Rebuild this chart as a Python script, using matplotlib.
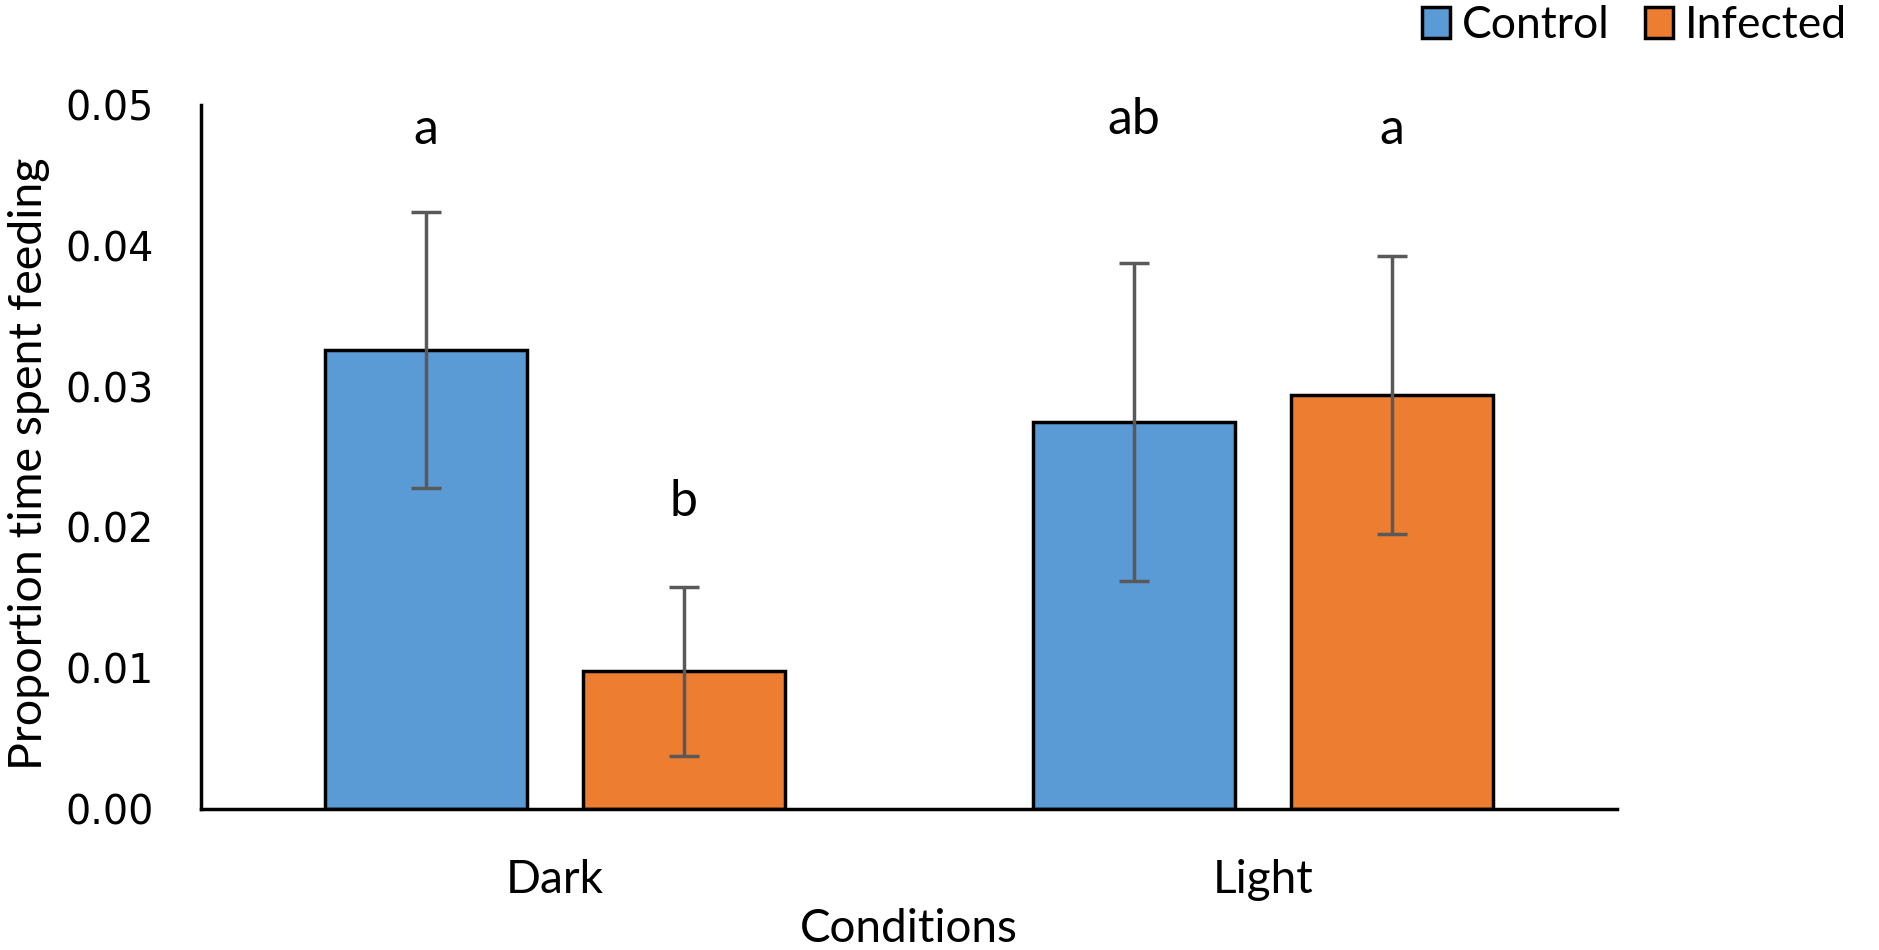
import matplotlib
matplotlib.use("Agg")
import matplotlib.pyplot as plt
import numpy as np
from matplotlib.patches import Patch

conditions = ["Dark", "Light"]
series_names = ["Control", "Infected"]
control_means = [0.0326, 0.0275]
infected_means = [0.0098, 0.0294]
control_err = [0.0098, 0.0113]
infected_err = [0.0060, 0.0099]
control_letters = ["a", "ab"]
infected_letters = ["b", "a"]
letter_y_control = [0.0482, 0.0489]
letter_y_infected = [0.0218, 0.0482]
yticks = [0.00, 0.01, 0.02, 0.03, 0.04, 0.05]
ytick_labels = ["0.00", "0.01", "0.02", "0.03", "0.04", "0.05"]

blue = "#5B9BD5"
orange = "#ED7D31"
errc = "#595959"
font = "Lato"

fig = plt.figure(figsize=(18.79, 9.5), dpi=100)
ax = fig.add_axes([0.107, 0.1484, 0.7536, 0.7411])

x = np.arange(len(conditions))
w = 0.286
off = 0.182
ax.bar(x - off, control_means, w, color=blue, edgecolor="black", linewidth=2.5, zorder=2)
ax.bar(x + off, infected_means, w, color=orange, edgecolor="black", linewidth=2.5, zorder=2)
ax.errorbar(x - off, control_means, yerr=control_err, fmt="none", ecolor=errc,
            elinewidth=2.5, capsize=11, capthick=2.5, zorder=3)
ax.errorbar(x + off, infected_means, yerr=infected_err, fmt="none", ecolor=errc,
            elinewidth=2.5, capsize=11, capthick=2.5, zorder=3)

for i in range(len(conditions)):
    ax.text(x[i] - off, letter_y_control[i], control_letters[i], ha="center", va="center",
            fontsize=36, family=font)
    ax.text(x[i] + off, letter_y_infected[i], infected_letters[i], ha="center", va="center",
            fontsize=36, family=font)

ax.set_xlim(-0.5, 1.5)
ax.set_ylim(0, 0.05)
ax.set_yticks(yticks)
ax.set_yticklabels(ytick_labels, fontsize=28.5, family="DejaVu Sans")
ax.set_xticks(x)
ax.set_xticklabels(conditions, fontsize=33, family=font)
ax.tick_params(axis="y", length=0, pad=34)
ax.tick_params(axis="x", length=0, pad=36)
for s in ["top", "right"]:
    ax.spines[s].set_visible(False)
ax.spines["left"].set_linewidth(2.5)
ax.spines["bottom"].set_linewidth(2.5)
ax.set_xlabel("Conditions", fontsize=33, family=font, labelpad=5)
ax.set_ylabel("Proportion time spent feeding", fontsize=33.5, family=font)
ax.yaxis.set_label_coords(-0.1065, 0.49)

handles = [Patch(facecolor=blue, edgecolor="black", linewidth=2.5),
           Patch(facecolor=orange, edgecolor="black", linewidth=2.5)]
fig.legend(handles, series_names, loc="upper right", bbox_to_anchor=(1.004, 1.037),
           ncol=2, frameon=False, prop={"family": font, "size": 32},
           handlelength=0.64, handleheight=0.7, handletextpad=0.25, columnspacing=0.8)

fig.savefig("out.png", dpi=100, facecolor="white")
